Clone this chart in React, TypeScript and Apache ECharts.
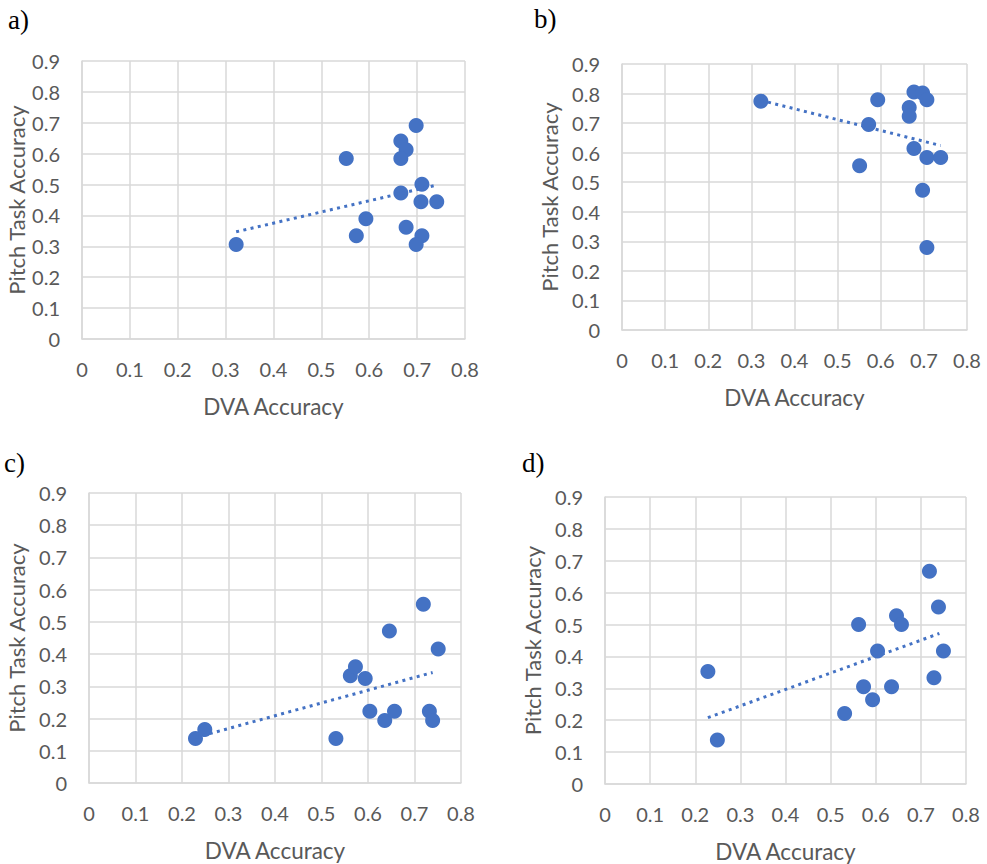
import React, { useEffect, useRef } from "react";
import * as echarts from "echarts";

// DVA accuracy (x) and pitch task accuracy (y) per participant, one pair of arrays per panel
const dvaA = [0.322, 0.552, 0.573, 0.593, 0.666, 0.677, 0.666, 0.666, 0.677, 0.698, 0.71, 0.708, 0.741, 0.71, 0.698];
const pitchA = [0.306, 0.584, 0.334, 0.389, 0.641, 0.613, 0.584, 0.473, 0.362, 0.691, 0.501, 0.444, 0.444, 0.334, 0.306];

const dvaB = [0.322, 0.551, 0.572, 0.593, 0.666, 0.666, 0.677, 0.677, 0.697, 0.707, 0.707, 0.739, 0.697, 0.707];
const pitchB = [0.774, 0.556, 0.695, 0.779, 0.753, 0.723, 0.805, 0.614, 0.802, 0.779, 0.584, 0.584, 0.473, 0.279];

const dvaC = [0.229, 0.249, 0.531, 0.562, 0.573, 0.594, 0.604, 0.636, 0.646, 0.657, 0.719, 0.732, 0.739, 0.751];
const pitchC = [0.138, 0.166, 0.138, 0.333, 0.361, 0.324, 0.223, 0.194, 0.472, 0.223, 0.555, 0.223, 0.194, 0.416];

const dvaD = [0.228, 0.249, 0.531, 0.562, 0.573, 0.593, 0.604, 0.635, 0.646, 0.657, 0.719, 0.729, 0.739, 0.75];
const pitchD = [0.353, 0.138, 0.221, 0.5, 0.305, 0.264, 0.417, 0.305, 0.528, 0.5, 0.667, 0.333, 0.555, 0.417];

// Linear trendline end points [x, y] per panel
const trendA = [[0.322, 0.347], [0.74, 0.498]];
const trendB = [[0.322, 0.777], [0.739, 0.624]];
const trendC = [[0.229, 0.141], [0.739, 0.343]];
const trendD = [[0.228, 0.208], [0.741, 0.472]];

const panelLabels = ["a)", "b)", "c)", "d)"];
const xTitle = "DVA Accuracy";
const yTitle = "Pitch Task Accuracy";

const BLUE = "#4472C4";
const GRID = "#d9d9d9";
const TEXT = "#595959";
const FONT = "Lato";

const grids = [
  { left: 82, top: 61, width: 383, height: 278, yGap: 55 },
  { left: 622, top: 64, width: 345, height: 266, yGap: 62 },
  { left: 89, top: 493, width: 372, height: 290, yGap: 62 },
  { left: 605, top: 497, width: 361, height: 288, yGap: 62 },
];

const labelPos = [
  { left: 8, top: 6 },
  { left: 534, top: 5 },
  { left: 4, top: 449 },
  { left: 522, top: 449 },
];

const tickFmt = (v: number) => (v === 0 ? "0" : v.toFixed(1));

export default function App() {
  const ref = useRef<HTMLDivElement>(null);

  useEffect(() => {
    if (!ref.current) return;
    const chart = echarts.init(ref.current, undefined, { renderer: "svg" });

    const panels = [
      { xs: dvaA, ys: pitchA, trend: trendA },
      { xs: dvaB, ys: pitchB, trend: trendB },
      { xs: dvaC, ys: pitchC, trend: trendC },
      { xs: dvaD, ys: pitchD, trend: trendD },
    ];

    const axisLine = { show: true, lineStyle: { color: GRID, width: 1.5 } };
    const splitLine = { show: true, lineStyle: { color: GRID, width: 1.5 } };
    const axisLabel = { color: TEXT, fontFamily: FONT, fontSize: 20, formatter: tickFmt };

    const option: any = {
      animation: false,
      backgroundColor: "#ffffff",
      title: panelLabels.map((t, i) => ({
        text: t,
        left: labelPos[i].left,
        top: labelPos[i].top,
        padding: 0,
        textStyle: {
          fontFamily: "Liberation Serif",
          fontWeight: "normal",
          fontSize: 27,
          color: "#000000",
        },
      })),
      grid: grids.map((g) => ({ left: g.left, top: g.top, width: g.width, height: g.height })),
      xAxis: grids.map((g, i) => ({
        type: "value",
        gridIndex: i,
        min: 0,
        max: 0.8,
        interval: 0.1,
        axisLine,
        splitLine,
        axisTick: { show: false },
        axisLabel: { ...axisLabel, margin: 20 },
        name: xTitle,
        nameLocation: "middle",
        nameGap: 56,
        nameTextStyle: { color: TEXT, fontFamily: FONT, fontSize: 22.5 },
      })),
      yAxis: grids.map((g, i) => ({
        type: "value",
        gridIndex: i,
        min: 0,
        max: 0.9,
        interval: 0.1,
        axisLine,
        splitLine,
        axisTick: { show: false },
        axisLabel: { ...axisLabel, margin: 22 },
        name: yTitle,
        nameLocation: "middle",
        nameGap: g.yGap,
        nameRotate: 90,
        nameTextStyle: { color: TEXT, fontFamily: FONT, fontSize: 22 },
      })),
      series: panels.flatMap((p, i) => [
        {
          type: "line",
          xAxisIndex: i,
          yAxisIndex: i,
          data: p.trend,
          symbol: "none",
          silent: true,
          lineStyle: { color: BLUE, width: 3, type: [3, 4.4] },
          z: 3,
        },
        {
          type: "scatter",
          xAxisIndex: i,
          yAxisIndex: i,
          data: p.xs.map((x, k) => [x, p.ys[k]]),
          symbol: "circle",
          symbolSize: 15,
          itemStyle: { color: BLUE, opacity: 1 },
          z: 2,
        },
      ]),
    };

    chart.setOption(option);
    return () => chart.dispose();
  }, []);

  return (
    <div
      ref={ref}
      style={{ position: "absolute", left: 0, top: 0, width: 987, height: 864 }}
    />
  );
}
